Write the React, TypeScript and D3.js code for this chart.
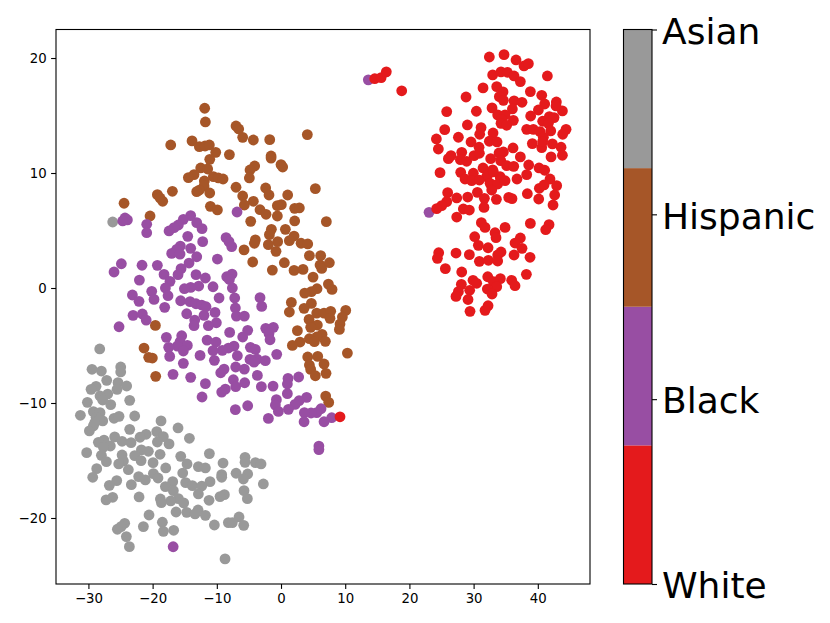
import React, { useEffect, useRef } from 'react';
import * as d3 from 'd3';

const width = 830;
const height = 623;
const plot = { left: 56, right: 590, top: 29.5, bottom: 584 };
const bar = { left: 623.5, right: 652 };

const categories = ['White', 'Black', 'Hispanic', 'Asian'];
const colors = ['#e41a1c', '#984ea3', '#a65628', '#999999'];
const xTicks = [-30, -20, -10, 0, 10, 20, 30, 40];
const yTicks = [-20, -10, 0, 10, 20];

const white: number[][] = [
  [32.45,20.09],[34.74,20.29],[36.61,19.83],[37.85,19.31],[38.53,19.51],[32.97,18.53],[34.27,18.79],[35.26,18.76],[36.3,18.44],[37.28,17.95],
  [41.49,18.44],[33.6,17.51],[31.47,17.4],[34.58,17.05],[38.84,17.08],[34.01,16.64],[28.82,16.61],[34.64,16.32],[40.61,16.76],[36.3,16.27],
  [37.54,16.15],[41.07,16],[42.89,16.18],[32.87,15.66],[36.04,15.57],[40.09,15.48],[43.83,15.4],[42.84,15.83],[25.81,15.34],[30.43,15.37],
  [33.75,15.05],[34.9,15.05],[38.89,14.96],[34.38,14.67],[36.19,14.58],[41.8,14.9],[42.53,14.82],[40.76,14.5],[41.65,14.32],[34.27,14.32],
  [35.15,14.15],[29.03,14.18],[31.16,13.95],[25.5,13.77],[38.27,13.8],[39.31,13.8],[40.35,13.6],[42.01,13.66],[44.4,13.8],[43.88,13.37],
  [30.95,13.37],[33.03,13.48],[24.2,12.96],[27.63,13.11],[40.87,13.11],[32.45,12.76],[33.65,12.7],[29.6,12.7],[39.15,12.56],[40.61,12.21],
  [40.76,12.73],[42.27,12.53],[43.62,12.24],[24.51,12.09],[30.85,12.24],[36.14,12.18],[34.64,11.83],[33.96,11.74],[28.15,11.8],[26.48,11.51],
  [26.07,11.25],[27.94,11.16],[28.92,11.02],[30.07,11.51],[30.9,11.72],[43.83,11.54],[42.06,11.4],[37.28,11.4],[32.66,11.25],[34.22,11.08],
  [35.15,10.64],[36.25,10.58],[31.47,10.44],[32.97,10.27],[38.58,10.7],[40.19,10.44],[41.07,10.24],[24.77,10.03],[27.99,10.06],[29.96,9.98],
  [38.27,9.86],[34.12,9.69],[32.04,9.69],[41.9,9.48],[36.76,9.48],[28.66,9.48],[29.7,9.33],[30.9,9.39],[32.2,9.83],[33.08,10.11],
  [32.56,9.1],[33.75,9.04],[34.9,9.33],[32.82,8.52],[40.24,8.67],[40.97,8.96],[42.94,8.9],[25.96,8.29],[27.37,7.83],[29.08,7.91],
  [30.59,8.32],[31.68,7.8],[33.55,7.71],[35.47,7.88],[35.98,7.77],[38.37,8.2],[40.14,7.74],[42.63,8.09],[42.37,7.22],[25.81,7.51],
  [25.03,7.16],[24.25,6.9],[28.4,6.87],[29.34,6.78],[31.62,7.01],[27.37,6.17],[31.21,5.68],[31.78,5.27],[34.9,5.27],[38.84,5.62],
  [41.75,5.51],[41.23,5.07],[33.34,4.81],[33.49,4.38],[30.17,4.46],[37.28,4.35],[36.45,3.91],[30.74,3.71],[32.25,3.5],[37.54,3.45],
  [34.27,3.13],[33.75,2.87],[24.56,3.07],[24.36,2.58],[27.26,3.04],[29.34,2.9],[36.3,2.87],[38.79,2.67],[30.9,2.32],[32.3,2.41],
  [33.75,2.35],[25.6,1.68],[28.15,1.39],[38.22,1.19],[32.2,0.98],[29.91,0.67],[30.48,0.41],[34.17,0.81],[33.08,0.55],[35.93,0.67],
  [36.45,0.2],[28.09,0.32],[33.6,0.12],[32.14,-0.09],[29.39,-0.2],[32.87,-0.52],[27.63,-0.32],[27.26,-0.73],[29.13,-1],[32.25,-1.54],
  [31.78,-1.94],[29.44,-2.03],[14.6,18.2],[15.6,18.3],[16.4,18.8],[18.8,17.15],[9.19,-11.2],
];

const black: number[][] = [
  [13.6,18.1],[23.06,6.58],[-6.85,6.61],[-24.3,6.09],[-23.93,5.92],[-24.66,5.83],[-20.92,5.54],[-20.92,4.81],[-14.07,6.29],[-15.21,5.97],
  [-15.99,5.48],[-16.66,5.25],[-17.44,4.96],[-13.13,5.68],[-12.3,5.16],[-14.53,4.49],[-12.2,4.03],[-8.56,4.38],[-8.1,4.03],[-7.68,3.6],
  [-15.68,3.65],[-14.07,3.45],[-16.25,3.36],[-17.03,3.01],[-15.73,2.95],[-13.13,2.72],[-9.91,2.52],[-24.87,2.11],[-26.01,1.39],[-21.65,1.98],
  [-19.26,1.97],[-14.33,2.17],[-15.57,1.68],[-16.04,1.16],[-18.22,1.18],[-13.24,1.16],[-7.63,1.21],[-8.46,0.98],[-8.04,0.75],[-11.78,0.87],
  [-17.29,0.58],[-22.06,0.69],[-18.01,0],[-12.82,0.17],[-14.07,0.05],[-15.05,-0.06],[-10.59,0.11],[-7.58,0],[-20.14,-0.29],[-23.15,-0.61],
  [-17.6,-0.67],[-19.78,-0.99],[-22.12,-1.16],[-9.65,-0.87],[-7.21,-0.87],[-3.27,-0.84],[-15.63,-1.11],[-14.17,-1.19],[-13.24,-1.37],[-12.35,-1.48],
  [-11.68,-1.63],[-3.01,-1.6],[-18.12,-1.68],[-7.11,-1.74],[-10.28,-2.12],[-14.69,-2.24],[-11.99,-2.38],[-6.95,-2.44],[-5.71,-2.44],[-23.05,-2.38],
  [-21.6,-2.26],[-21,-2.79],[-13.44,-2.79],[-13.55,-3.28],[-10.07,-3.02],[-11.32,-3.28],[-25.23,-3.37],[-2.38,-3.51],[-1.19,-3.42],[-5.19,-3.68],
  [-8,-3.86],[-1.87,-3.95],[-5.97,-4.26],[-1.71,-4.5],[-17.86,-4.29],[-15.47,-4.15],[-11.52,-4.53],[-10.12,-4.7],[-15.73,-4.67],[-14.59,-4.99],
  [-16.14,-5.05],[-17.5,-5.16],[-7.32,-5.05],[-8.2,-5.22],[-9.14,-5.42],[-10.59,-5.45],[-4.77,-5.16],[-4,-5.34],[-15.21,-5.48],[-17.34,-5.95],
  [-12.61,-5.86],[-6.8,-5.89],[-0.67,-5.77],[-3.73,-6.18],[-4.83,-6.21],[-4.2,-6.44],[-2.44,-6.32],[-10.38,-6.29],[-15.21,-6.55],[-8.87,-7.05],
  [-9.39,-7.37],[-7.06,-6.87],[-5.71,-7.05],[-16.82,-7.51],[-14.07,-7.77],[-3.68,-7.6],[2.75,-7.74],[1.09,-7.86],[-7.42,-7.98],[-5.66,-8.24],
  [-7.06,-8.58],[0.99,-8.35],[-11.78,-8.32],[-3.06,-8.58],[-1.24,-8.53],[-8.67,-8.79],[-9.24,-9.05],[0.99,-9.19],[-12.3,-9.48],[3.99,-9.51],
  [2.81,-9.8],[-0.72,-9.71],[-0.88,-10.18],[2.18,-10.12],[-5.19,-10.24],[-7.11,-10.58],[1.15,-10.55],[-0.41,-10.73],[6.23,-10.5],[5.56,-10.84],
  [4.68,-10.87],[3.64,-10.84],[-1.97,-11.34],[7.89,-11.28],[6.7,-11.63],[3.59,-11.63],[5.9,-13.75],[5.9,-14.05],[-16.8,-22.5],
];

const hispanic: number[][] = [
  [-11.89,15.63],[-11.78,14.44],[-7.01,14.09],[-6.59,13.83],[4.1,13.34],[-5.97,13.1],[-4.31,12.87],[-1.76,12.9],[-13.86,12.79],[-17.18,12.44],
  [-12.72,12.29],[-11.83,12.35],[-11.16,12.44],[-10.17,11.8],[-8.04,11.6],[-1.55,11.48],[-1.55,11.3],[-11.1,11.19],[0,10.73],[0.26,10.52],
  [-4.1,10.61],[-4.83,10.26],[-12.51,10.44],[-11.42,10.35],[-4.93,9.57],[-13.55,9.86],[-14.43,9.6],[-10.54,9.68],[-9.76,9.57],[-9.03,9.48],
  [-11.94,9.31],[-11.99,8.87],[-7.01,8.76],[-2.39,8.7],[5.35,8.64],[-12.72,8.52],[-13.13,8.38],[-11.1,8.26],[-16.92,8.41],[-19.26,8.12],
  [-18.43,7.54],[-18.84,7.83],[-1.87,8.09],[1.04,8.09],[-5.97,8],[-4.31,7.54],[-5.71,7.22],[0.05,7.25],[-0.57,7.16],[-24.45,7.37],
  [-11,7.1],[-9.91,6.79],[-3.27,6.81],[-2.33,6.41],[-0.57,6.26],[2.13,6.93],[2.86,6.96],[-20.4,6.26],[7.06,5.77],[-4.72,5.8],
  [2.13,5.83],[0.68,5.1],[-1.5,5.1],[-1.81,4.64],[2.03,4.52],[1.3,4.12],[-4,4.18],[-4.15,3.89],[-0.52,4.03],[-1.97,3.77],
  [3.12,3.89],[4.16,3.83],[-5.76,3.31],[-0.78,3.19],[-4.41,2.26],[0.52,2.2],[-1.35,1.56],[2.03,1.53],[3.43,1.62],[4.42,2.81],
  [6.18,2.81],[6.08,2],[6.34,1.7],[7.53,2.2],[4.99,0.95],[7.38,0.34],[7.95,-0.12],[5.61,-0.06],[4.73,-0.32],[3.69,-0.44],
  [1.61,-1.25],[4.73,-1.34],[3.59,-1.77],[1.3,-2.09],[10.08,-1.95],[9.56,-2.53],[5.56,-2.18],[6.7,-2.18],[7.74,-2.03],[7.63,-2.64],
  [4.37,-2.73],[9.19,-3.13],[9.09,-3.6],[5.66,-3.22],[4.62,-3.42],[-19.57,-3.25],[2.55,-3.71],[6.39,-4.03],[5.56,-4.26],[4.42,-4.41],
  [5.2,-4.67],[6.91,-4.64],[2.96,-4.7],[1.77,-4.99],[-21.34,-5.22],[10.34,-5.66],[-20.61,-6.03],[-20.04,-6.09],[4.16,-6],[5.72,-5.95],
  [6.7,-6.61],[4.42,-6.7],[4.62,-7.08],[7.01,-7.42],[5.35,-7.63],[-19.52,-7.68],[6.96,-9.4],[7.43,-9.95],
];

const asian: number[][] = [
  [-26.22,5.74],[-28.24,-5.3],[-29.44,-7.07],[-27.98,-7.22],[-24.97,-6.87],[-24.97,-7.3],[-27.15,-8.03],[-28.81,-8.55],[-29.59,-8.81],[-25.39,-8.23],
  [-24.04,-8.52],[-25.54,-8.81],[-26.99,-9.22],[-28.19,-9.39],[-27.78,-9.74],[-30.16,-9.94],[-23.57,-9.77],[-26.53,-10.14],[-31.25,-11.07],[-29.23,-10.75],
  [-28.19,-10.84],[-28.81,-11.24],[-27.77,-11.56],[-26.01,-11.33],[-25.23,-11.16],[-22.79,-11.13],[-18.69,-11.56],[-29.23,-11.99],[-29.85,-12.43],[-23.57,-12.29],
  [-16.04,-12.17],[-19.36,-12.49],[-21.02,-12.72],[-21.96,-12.98],[-18.33,-12.93],[-19.26,-13.39],[-14.27,-13.07],[-25.91,-12.95],[-24.76,-13.33],[-27.57,-13.22],
  [-23.36,-13.45],[-28.45,-13.42],[-26.58,-13.74],[-27.67,-13.85],[-17.44,-13.56],[-30.27,-14.32],[-21.75,-14.08],[-20.66,-14.2],[-27.98,-14.55],[-24.76,-14.52],
  [-22.79,-14.58],[-18.84,-14.46],[-11.16,-14.4],[-15.62,-14.64],[-21.8,-15.01],[-27.2,-15.1],[-24.55,-15.04],[-5.6,-14.72],[-5.6,-15.16],[-25.28,-15.3],
  [-19.93,-15.19],[-9.03,-15.22],[-14.64,-15.3],[-3.99,-15.19],[-3.11,-15.3],[-12.87,-15.53],[-11.78,-15.65],[-17.96,-15.65],[-23.78,-15.8],[-28.71,-15.71],
  [-15.31,-16.09],[-19.88,-16.14],[-7,-16.11],[-5.19,-16.17],[-9.24,-16.23],[-29.33,-16.46],[-22.17,-16.4],[-19.16,-16.52],[-21.13,-16.69],[-5.86,-16.61],
  [-9.24,-16.46],[-25.59,-16.75],[-23.31,-17.1],[-26.74,-17.16],[-16.87,-16.84],[-14.85,-16.93],[-11.06,-16.84],[-2.75,-17.04],[-18.01,-17.27],[-13.81,-17.19],
  [-12.35,-17.22],[-16.77,-17.62],[-5.76,-17.62],[-12.87,-17.91],[-8.82,-17.97],[-9.5,-18.14],[-26.22,-18.2],[-27.25,-18.43],[-22.11,-18.17],[-5.24,-18.32],
  [-18.79,-18.35],[-15.99,-18.32],[-11.21,-18.46],[-17.18,-18.52],[-18.64,-18.66],[-15.16,-18.69],[-16.35,-19.48],[-14.69,-19.51],[-12.92,-19.3],[-13.39,-19.65],
  [-11.78,-19.77],[-20.56,-19.74],[-6.54,-19.91],[-24.35,-20.46],[-24.92,-20.75],[-25.49,-20.98],[-18.48,-20.37],[-21.44,-20.75],[-8.2,-20.4],[-7.58,-20.4],
  [-5.81,-20.64],[-10.38,-20.61],[-18.32,-21.16],[-16.72,-21.07],[-24.09,-21.62],[-23.62,-22.49],[-8.72,-23.56],[-28.3,-11.45],[-29,-11.7],
];

const groups = [asian, hispanic, black, white];
const groupColors = [colors[3], colors[2], colors[1], colors[0]];

export default function App() {
  const xRef = useRef<SVGGElement>(null);
  const yRef = useRef<SVGGElement>(null);
  const barRef = useRef<SVGGElement>(null);

  const xScale = d3.scaleLinear().domain([-35.05, 48.13]).range([plot.left, plot.right]);
  const yScale = d3.scaleLinear().domain([-25.74, 22.48]).range([plot.bottom, plot.top]);
  const bandScale = d3.scaleBand().domain(categories).range([plot.bottom, plot.top]);
  const tickScale = d3.scalePoint().domain(categories).range([plot.bottom, plot.top]);

  useEffect(() => {
    const font = 'DejaVu Sans';
    const xAxis = d3.select(xRef.current!).call(
      d3.axisBottom(xScale).tickValues(xTicks).tickSize(4.9).tickPadding(4.5).tickSizeOuter(0)
    );
    const yAxis = d3.select(yRef.current!).call(
      d3.axisLeft(yScale).tickValues(yTicks).tickSize(4.9).tickPadding(4.5).tickSizeOuter(0)
    );
    [xAxis, yAxis].forEach((a) => {
      a.select('.domain').remove();
      a.selectAll('text').attr('font-family', font).attr('font-size', 13.3).attr('fill', '#000');
      a.selectAll('line').attr('stroke', '#000').attr('stroke-width', 1.1);
    });
    const barAxis = d3.select(barRef.current!).call(
      d3.axisRight(tickScale).tickSize(5).tickPadding(5).tickSizeOuter(0)
    );
    barAxis.select('.domain').remove();
    // labels sit a touch lower than d3's default centring
    barAxis.selectAll('text').attr('font-family', font).attr('font-size', 36).attr('fill', '#000').attr('dy', '0.38em');
    barAxis.selectAll('line').attr('stroke', '#000').attr('stroke-width', 1.1);
  }, []);

  return (
    <svg width={width} height={height} style={{ position: 'absolute', left: 0, top: 0 }}>
      <rect width={width} height={height} fill="#fff" />
      {groups.map((g, i) => (
        <g key={i} fill={groupColors[i]}>
          {g.map((d, j) => (
            <circle key={j} cx={xScale(d[0])} cy={yScale(d[1])} r={5.4} />
          ))}
        </g>
      ))}
      <rect
        x={plot.left}
        y={plot.top}
        width={plot.right - plot.left}
        height={plot.bottom - plot.top}
        fill="none"
        stroke="#000"
        strokeWidth={1.1}
      />
      <g ref={xRef} transform={`translate(0,${plot.bottom})`} />
      <g ref={yRef} transform={`translate(${plot.left},0)`} />
      {categories.map((c, i) => (
        <rect
          key={c}
          x={bar.left}
          y={bandScale(c)}
          width={bar.right - bar.left}
          height={bandScale.bandwidth()}
          fill={colors[i]}
        />
      ))}
      <rect
        x={bar.left}
        y={plot.top}
        width={bar.right - bar.left}
        height={plot.bottom - plot.top}
        fill="none"
        stroke="#000"
        strokeWidth={1.1}
      />
      <g ref={barRef} transform={`translate(${bar.right},0)`} />
    </svg>
  );
}
